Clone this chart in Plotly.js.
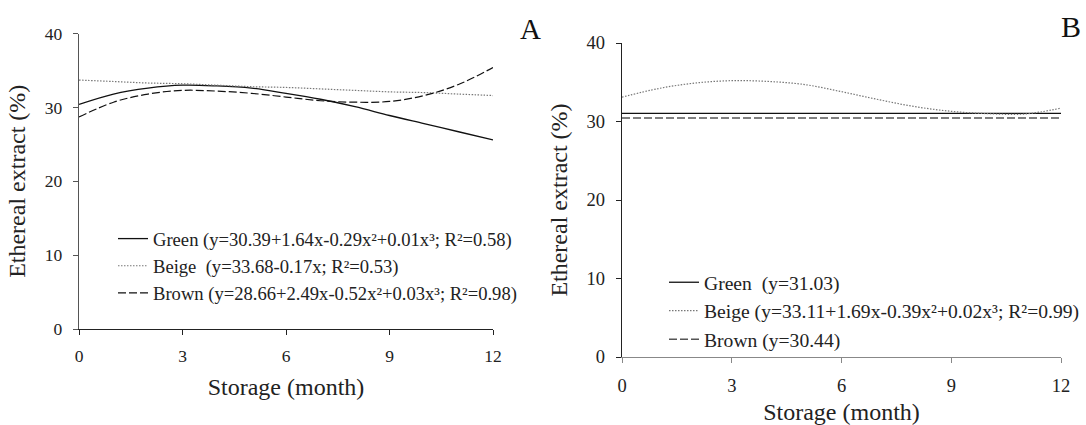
<!DOCTYPE html>
<html>
<head>
<meta charset="utf-8">
<script src="https://cdn.plot.ly/plotly-3.0.1.min.js"></script>
<style>html,body{margin:0;padding:0;background:#fff}#chart{width:1086px;height:425px}</style>
</head>
<body>
<div id="chart"></div>
<script>
// ---- Data ----
const months = [0, 1, 2, 3, 4, 5, 6, 7, 8, 9, 10, 11, 12];
const monthTicks = [0, 3, 6, 9, 12];
const pctTicks = [0, 10, 20, 30, 40];

// Panel A
const greenA = [30.4, 31.8, 32.6, 33.0, 32.9, 32.6, 31.9, 31.1, 30.1, 28.9, 27.8, 26.7, 25.6];
const beigeA = [33.7, 33.5, 33.3, 33.2, 33.0, 32.8, 32.7, 32.5, 32.3, 32.1, 32.0, 31.8, 31.6];
const brownA = [28.7, 30.7, 31.8, 32.3, 32.2, 31.9, 31.4, 30.9, 30.7, 30.8, 31.6, 33.1, 35.4];

// Panel B
const flatMonths = [0, 12];
const greenB = [31.03, 31.03];
const beigeB = [33.1, 34.2, 34.9, 35.2, 35.1, 34.7, 33.8, 32.8, 31.9, 31.3, 31.0, 30.95, 31.7];
const brownB = [30.44, 30.44];

const namesA = [
  "Green (y=30.39+1.64x-0.29x²+0.01x³; R²=0.58)",
  "Beige\u00A0 (y=33.68-0.17x; R²=0.53)",
  "Brown (y=28.66+2.49x-0.52x²+0.03x³; R²=0.98)"
];
const namesB = [
  "Green\u00A0 (y=31.03)",
  "Beige (y=33.11+1.69x-0.39x²+0.02x³; R²=0.99)",
  "Brown (y=30.44)"
];
const panelLetters = ["A", "B"];
const xTitle = "Storage (month)";
const yTitle = "Ethereal extract (%)";

// ---- Styling ----
const FONT = "Liberation Serif";
const INK = "#222";
const W = 1086, H = 425;
const px = v => v / W;
const py = v => 1 - v / H;

const traces = [
  {x: months, y: greenA, name: namesA[0], xaxis: "x", yaxis: "y", legend: "legend",
   mode: "lines", line: {color: "#111", width: 1.3, shape: "spline", smoothing: 1}},
  {x: months, y: beigeA, name: namesA[1], xaxis: "x", yaxis: "y", legend: "legend",
   mode: "lines", line: {color: "#777", width: 1.2, dash: "1.5px,1.5px", shape: "spline", smoothing: 1}},
  {x: months, y: brownA, name: namesA[2], xaxis: "x", yaxis: "y", legend: "legend",
   mode: "lines", line: {color: "#111", width: 1.2, dash: "8px,3px", shape: "spline", smoothing: 1}},
  {x: flatMonths, y: greenB, name: namesB[0], xaxis: "x2", yaxis: "y2", legend: "legend2",
   mode: "lines", line: {color: "#111", width: 1.3}},
  {x: months, y: beigeB, name: namesB[1], xaxis: "x2", yaxis: "y2", legend: "legend2",
   mode: "lines", line: {color: "#777", width: 1.2, dash: "1.5px,1.5px", shape: "spline", smoothing: 1}},
  {x: flatMonths, y: brownB, name: namesB[2], xaxis: "x2", yaxis: "y2", legend: "legend2",
   mode: "lines", line: {color: "#555", width: 1.6, dash: "8px,3px"}}
];

function xAxis(domain, lineColor, size, anchor, standoff) {
  return {
    domain: domain, anchor: anchor, range: [0, 12], tickvals: monthTicks,
    ticktext: monthTicks.map(String), ticks: "outside", ticklen: 5, tickwidth: 1,
    tickcolor: lineColor, showline: true, linecolor: lineColor, linewidth: 1.3,
    showgrid: false, zeroline: false, ticklabelstandoff: 6,
    tickfont: {family: FONT, size: size, color: INK},
    title: {text: xTitle, font: {family: FONT, size: 24, color: INK}, standoff: standoff},
    fixedrange: true
  };
}
function yAxis(domain, lineColor, size, anchor) {
  return {
    domain: domain, anchor: anchor, range: [0, 40], tickvals: pctTicks,
    ticktext: pctTicks.map(String), ticks: "outside", ticklen: 5, tickwidth: 1,
    tickcolor: lineColor, showline: true, linecolor: lineColor, linewidth: 1.3,
    showgrid: false, zeroline: false, ticklabelstandoff: 7,
    tickfont: {family: FONT, size: size, color: INK},
    title: {text: yTitle, font: {family: FONT, size: 24, color: INK}, standoff: 12},
    fixedrange: true
  };
}

const layout = {
  width: W, height: H, autosize: false,
  margin: {l: 0, r: 0, t: 0, b: 0},
  paper_bgcolor: "#fff", plot_bgcolor: "#fff",
  font: {family: FONT, color: INK},
  showlegend: true,
  xaxis: xAxis([px(79), px(493)], "#222", 17.5, "y", 13),
  yaxis: yAxis([py(329), py(33.5)], "#555", 17.5, "x"),
  xaxis2: xAxis([px(622), px(1061)], "#888", 18.5, "y2", 17),
  yaxis2: yAxis([py(357), py(43)], "#222", 18.5, "x2"),
  legend: {x: px(113), xanchor: "left", y: py(266), yanchor: "middle",
           bgcolor: "rgba(0,0,0,0)", borderwidth: 0,
           font: {family: FONT, size: 18.6, color: INK}},
  legend2: {x: px(664), xanchor: "left", y: py(311), yanchor: "middle",
           bgcolor: "rgba(0,0,0,0)", borderwidth: 0,
           font: {family: FONT, size: 19.6, color: INK}},
  annotations: [
    {text: panelLetters[0], xref: "paper", yref: "paper", x: px(530), y: py(29),
     xanchor: "center", yanchor: "middle", showarrow: false,
     font: {family: FONT, size: 29, color: "#111"}},
    {text: panelLetters[1], xref: "paper", yref: "paper", x: px(1071), y: py(27),
     xanchor: "center", yanchor: "middle", showarrow: false,
     font: {family: FONT, size: 30, color: "#111"}}
  ]
};

Plotly.newPlot("chart", traces, layout, {staticPlot: true, displayModeBar: false});
</script>
</body>
</html>
